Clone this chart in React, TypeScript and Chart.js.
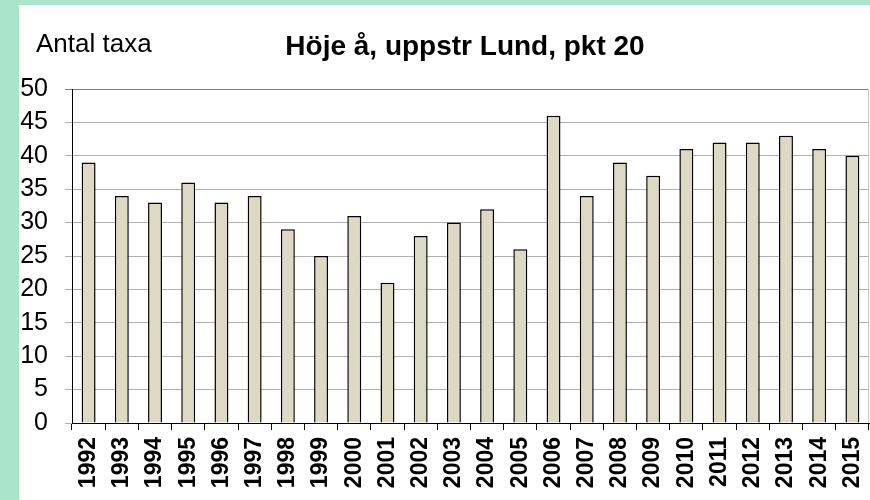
import React, { useEffect, useRef } from "react";
import { Chart, registerables } from "chart.js";

Chart.register(...registerables);

const years = ["1992","1993","1994","1995","1996","1997","1998","1999","2000","2001","2002","2003","2004","2005","2006","2007","2008","2009","2010","2011","2012","2013","2014","2015"];
const taxa = [39, 34, 33, 36, 33, 34, 29, 25, 31, 21, 28, 30, 32, 26, 46, 34, 39, 37, 41, 42, 42, 43, 41, 40];
const titleText = "Höje å, uppstr Lund, pkt 20";
const yLabelText = "Antal taxa";

const framePlugin = {
  id: "frame",
  beforeDraw(chart: any) {
    const { ctx, width, height } = chart;
    ctx.save();
    ctx.fillStyle = "#aae5cb";
    ctx.fillRect(0, 0, width, height);
    ctx.fillStyle = "#ffffff";
    ctx.fillRect(19, 5, width - 19, height - 5);
    ctx.restore();
  },
  afterDraw(chart: any) {
    const { ctx, chartArea } = chart;
    ctx.save();
    ctx.strokeStyle = "#c8c8c8";
    ctx.lineWidth = 1;
    ctx.beginPath();
    ctx.moveTo(chartArea.right - 0.5, chartArea.top);
    ctx.lineTo(chartArea.right - 0.5, chartArea.bottom);
    ctx.stroke();
    ctx.fillStyle = "#000";
    ctx.textBaseline = "alphabetic";
    ctx.font = "26px 'Liberation Sans', Arial, sans-serif";
    ctx.textAlign = "left";
    ctx.fillText(yLabelText, 36, 52);
    ctx.font = "bold 28px 'Liberation Sans', Arial, sans-serif";
    ctx.textAlign = "center";
    ctx.fillText(titleText, 465, 55);
    ctx.restore();
  },
};

export default function App() {
  const ref = useRef<HTMLCanvasElement>(null);
  useEffect(() => {
    if (!ref.current) return;
    const chart = new Chart(ref.current, {
      type: "bar",
      data: {
        labels: years,
        datasets: [
          {
            data: taxa,
            backgroundColor: "#ddd9c3",
            borderColor: "#000000",
            borderWidth: 1.5,
            categoryPercentage: 1,
            barPercentage: 0.42,
          },
        ],
      },
      options: {
        responsive: false,
        animation: false,
        layout: { padding: { top: 89, right: 1, left: 0, bottom: 0 } },
        plugins: { legend: { display: false }, title: { display: false }, tooltip: { enabled: false } },
        scales: {
          x: {
            type: "category",
            offset: true,
            afterFit: (s: any) => { s.height = 77; s.paddingLeft = 0; s.paddingRight = 0; },
            grid: { display: true, offset: true, drawOnChartArea: false, tickLength: 7, color: "#000" },
            border: { display: true, color: "#000", width: 1 },
            ticks: {
              color: "#000",
              minRotation: 90,
              maxRotation: 90,
              autoSkip: false,
              padding: 7,
              font: { family: "'Liberation Sans', Arial, sans-serif", size: 23, weight: "bold" },
            },
          },
          y: {
            min: 0,
            max: 50,
            afterFit: (s: any) => { s.width = 72; s.paddingTop = 0; s.paddingBottom = 0; },
            grid: {
              tickLength: 7,
              color: (c: any) => (c.tick && c.tick.value === 50 ? "#808080" : "#b0b0b0"),
            },
            border: { display: true, color: "#000", width: 1 },
            ticks: {
              stepSize: 5,
              color: "#000",
              padding: 17,
              font: { family: "'Liberation Sans', Arial, sans-serif", size: 25 },
            },
          },
        },
      },
      plugins: [framePlugin],
    });
    return () => chart.destroy();
  }, []);
  return (
    <div style={{ position: "fixed", left: 0, top: 0, width: 870, height: 500 }}>
      <canvas ref={ref} width={870} height={500} style={{ display: "block" }} />
    </div>
  );
}
